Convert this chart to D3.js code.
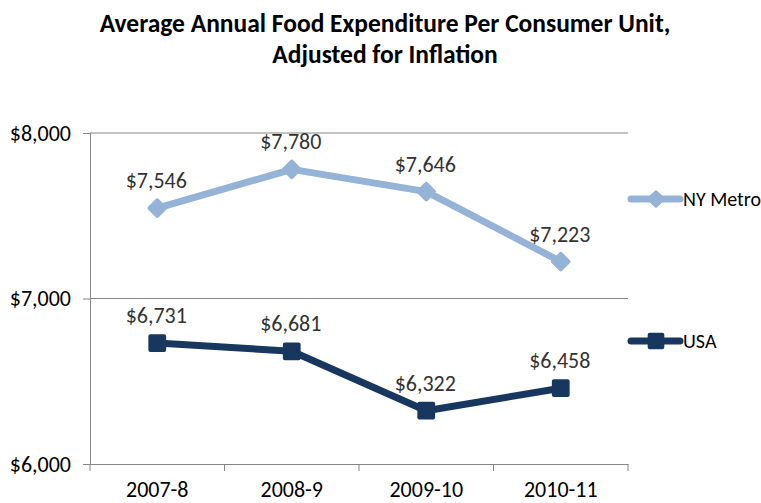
<!DOCTYPE html>
<html>
<head>
<meta charset="utf-8">
<script src="https://cdn.jsdelivr.net/npm/d3@7"></script>
<style>
  html, body { margin: 0; padding: 0; background: #fff; }
  svg { display: block; font-family: Carlito, "Liberation Sans Narrow", "Open Sans", sans-serif; }
</style>
</head>
<body>
<svg id="chart" width="761" height="503"></svg>
<script>
// Food expenditure per consumer unit, inflation adjusted
const periods = ["2007-8", "2008-9", "2009-10", "2010-11"];
const nyMetro = [7546, 7780, 7646, 7223];
const usa = [6731, 6681, 6322, 6458];
const yTicks = [6000, 7000, 8000];
const seriesNames = ["NY Metro", "USA"];

const svg = d3.select("#chart");
const margin = { left: 90, right: 133, top: 133, bottom: 39 };
const W = 761, H = 503;
const FONT = 'Carlito, "Liberation Sans Narrow", "Open Sans", sans-serif';

const x = d3.scaleBand().domain(periods).range([margin.left, W - margin.right]);
const y = d3.scaleLinear().domain([6000, 8000]).range([H - margin.bottom, margin.top]);
const money = v => "$" + d3.format(",")(v);

// Title
const title = svg.append("text").attr("text-anchor", "middle")
  .attr("font-weight", "bold").attr("font-size", 25.5).attr("fill", "#000");
title.append("tspan").attr("x", 385).attr("y", 32).text("Average Annual Food Expenditure Per Consumer Unit,");
title.append("tspan").attr("x", 385).attr("y", 63).text("Adjusted for Inflation");

// Gridlines
svg.append("g").selectAll("line").data(yTicks.slice(1)).join("line")
  .attr("x1", margin.left).attr("x2", W - margin.right)
  .attr("y1", d => y(d)).attr("y2", d => y(d))
  .attr("stroke", "#868686").attr("stroke-width", 1);

// Axes
const yAxis = svg.append("g").attr("transform", `translate(${margin.left},0)`)
  .call(d3.axisLeft(y).tickValues(yTicks).tickFormat(money).tickSize(7).tickPadding(12));
const xAxis = svg.append("g").attr("transform", `translate(0,${H - margin.bottom})`)
  .call(d3.axisBottom(x).tickSize(0).tickPadding(17));
[yAxis, xAxis].forEach(g => {
  g.select(".domain").attr("stroke", "#868686");
  g.selectAll(".tick line").attr("stroke", "#868686");
  g.selectAll("text").attr("font-size", 22).attr("fill", "#000").attr("font-family", FONT);
});
// category separator ticks
svg.append("g").selectAll("line").data(periods.concat(["end"])).join("line")
  .attr("x1", (d, i) => margin.left + i * x.step()).attr("x2", (d, i) => margin.left + i * x.step())
  .attr("y1", H - margin.bottom).attr("y2", H - margin.bottom + 7)
  .attr("stroke", "#868686");

// NY Metro uses a square turned 45° (diamond), USA a plain square
const series = [
  { name: seriesNames[0], values: nyMetro, color: "#95B3D7", rot: 45, size: 120, lsize: 90, legendY: 199 },
  { name: seriesNames[1], values: usa, color: "#17375E", rot: 0, size: 190, lsize: 160, legendY: 341 }
];

const line = d3.line().x((d, i) => x(periods[i]) + x.bandwidth() / 2).y(d => y(d));

series.forEach(s => {
  const g = svg.append("g");
  g.append("path").datum(s.values).attr("d", line)
    .attr("fill", "none").attr("stroke", s.color).attr("stroke-width", 7)
    .attr("stroke-linejoin", "round").attr("stroke-linecap", "round");
  g.selectAll("path.m").data(s.values).join("path").attr("class", "m")
    .attr("transform", (d, i) => `translate(${x(periods[i]) + x.bandwidth() / 2},${y(d)}) rotate(${s.rot})`)
    .attr("d", d3.symbol(d3.symbolSquare, s.size))
    .attr("fill", s.color).attr("stroke", s.color).attr("stroke-width", 4).attr("stroke-linejoin", "round");
  g.selectAll("text").data(s.values).join("text")
    .attr("x", (d, i) => x(periods[i]) + x.bandwidth() / 2 - 1)
    .attr("y", d => y(d) - 20)
    .attr("text-anchor", "middle").attr("font-size", 22).attr("fill", "#333")
    .text(money);

  // legend
  const lg = svg.append("g").attr("transform", `translate(631,${s.legendY})`);
  lg.append("line").attr("x1", 0).attr("x2", 49).attr("stroke", s.color)
    .attr("stroke-width", 7).attr("stroke-linecap", "round");
  lg.append("path").attr("transform", `translate(25,0) rotate(${s.rot})`)
    .attr("d", d3.symbol(d3.symbolSquare, s.lsize))
    .attr("fill", s.color).attr("stroke", s.color).attr("stroke-width", 4).attr("stroke-linejoin", "round");
  lg.append("text").attr("x", 52).attr("y", 7).attr("font-size", 20).attr("fill", "#000").text(s.name);
});
</script>
</body>
</html>
